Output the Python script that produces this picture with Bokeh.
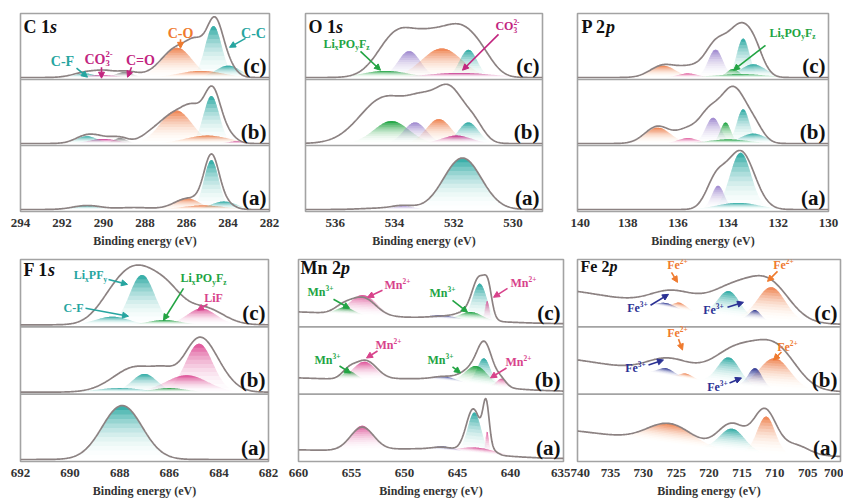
import numpy as np
from bokeh.plotting import figure
from bokeh.models import Range1d, FixedTicker, Span, Label, Arrow, NormalHead
from bokeh.layouts import row, column
from bokeh.embed import file_html
from bokeh.resources import INLINE

# ---------------- tick labels / texts ----------------
C1S_TICKS = [294, 292, 290, 288, 286, 284, 282]
O1S_TICKS = [536, 534, 532, 530]
P2P_TICKS = [140, 138, 136, 134, 132, 130]
F1S_TICKS = [692, 690, 688, 686, 684, 682]
MN2P_TICKS = [660, 655, 650, 645, 640, 635]
FE2P_TICKS = [740, 735, 730, 725, 720, 715, 710, 705, 700]
SPECTRA = ["(a)", "(b)", "(c)"]
X_LABEL = "Binding energy (eV)"

# ---------------- fitted peaks: (centre eV, height [panel units], FWHM eV) ----------------
C1S_A_ENV = [(284.8, 0.76, 0.85), (284.2, 0.10, 1.0), (285.9, 0.17, 1.6), (288.5, 0.03, 2.0), (290.8, 0.06, 1.6)]
C1S_A_COMP = [("orange", 285.2, 0.06, 2.5), ("teal", 284.2, 0.12, 1.5), ("orange", 286.0, 0.17, 1.5),
              ("teal", 290.9, 0.06, 1.5), ("teal", 284.8, 0.75, 0.85)]
C1S_B_ENV = [(284.75, 0.72, 0.9), (284.1, 0.15, 1.0), (285.6, 0.30, 1.1), (286.5, 0.46, 1.9), (287.8, 0.07, 1.2),
             (289.2, 0.08, 1.0), (290.0, 0.06, 1.2), (290.8, 0.12, 1.3)]
C1S_B_COMP = [("orange", 285.0, 0.12, 2.5), ("magenta", 283.6, 0.03, 1.0), ("orange", 286.5, 0.50, 1.8),
              ("gray", 289.2, 0.08, 0.8), ("magenta", 290.0, 0.07, 1.6), ("teal", 290.8, 0.11, 1.2),
              ("teal", 284.8, 0.72, 0.9)]
C1S_C_ENV = [(284.65, 0.75, 0.9), (284.1, 0.20, 1.0), (285.5, 0.30, 1.0), (286.4, 0.46, 1.9), (288.9, 0.09, 1.3),
             (289.9, 0.05, 1.0), (290.7, 0.09, 1.6)]
C1S_C_COMP = [("orange", 285.3, 0.10, 2.5), ("teal", 284.0, 0.18, 1.4), ("orange", 286.45, 0.45, 1.7),
              ("gray", 289.0, 0.08, 1.0), ("magenta", 290.1, 0.04, 1.6), ("teal", 290.9, 0.06, 1.2),
              ("teal", 284.7, 0.78, 0.95)]

O1S_A_ENV = [(531.7, 0.78, 1.5), (533.7, 0.05, 0.9), (534.5, 0.02, 1.5)]
O1S_A_COMP = [("teal", 531.7, 0.78, 1.5), ("purple", 533.7, 0.05, 0.9)]
O1S_B_ENV = [(534.3, 0.70, 2.0), (533.0, 0.45, 1.2), (532.1, 0.74, 1.1), (531.3, 0.25, 0.8)]
O1S_B_COMP = [("green", 534.1, 0.34, 1.4), ("purple", 533.3, 0.32, 0.9), ("orange", 532.5, 0.37, 1.0),
              ("teal", 531.5, 0.32, 0.8), ("magenta", 531.9, 0.12, 1.2)]
O1S_C_ENV = [(533.9, 0.66, 1.5), (532.7, 0.52, 1.4), (531.7, 0.62, 1.3), (531.0, 0.18, 1.0)]
O1S_C_COMP = [("green", 534.3, 0.10, 1.8), ("purple", 533.5, 0.40, 0.9), ("orange", 532.4, 0.44, 1.6),
              ("teal", 531.5, 0.42, 0.7), ("magenta", 531.8, 0.07, 2.6)]

P2P_A_ENV = [(133.5, 0.88, 1.3), (134.5, 0.40, 0.9)]
P2P_A_COMP = [("teal", 133.6, 0.10, 2.0), ("purple", 134.4, 0.36, 0.6), ("teal", 133.5, 0.86, 1.0)]
P2P_B_ENV = [(133.8, 0.85, 1.3), (134.8, 0.35, 0.9), (135.6, 0.20, 1.0), (136.8, 0.26, 1.2), (132.9, 0.15, 0.8)]
P2P_B_COMP = [("orange", 136.8, 0.24, 1.2), ("pink", 135.6, 0.08, 1.0), ("green", 134.0, 0.06, 2.0),
              ("teal", 133.0, 0.15, 1.2), ("purple", 134.6, 0.39, 0.7), ("teal", 133.4, 0.52, 0.6),
              ("green", 134.1, 0.32, 0.5)]
P2P_C_ENV = [(133.5, 0.76, 1.2), (132.9, 0.20, 0.8), (134.5, 0.45, 1.0), (135.5, 0.15, 1.2), (136.6, 0.18, 1.2)]
P2P_C_COMP = [("orange", 136.6, 0.18, 1.2), ("pink", 135.6, 0.06, 1.0), ("teal", 133.0, 0.20, 1.2),
              ("green", 133.5, 0.05, 2.5), ("purple", 134.5, 0.42, 0.7), ("teal", 133.4, 0.59, 0.6),
              ("green", 133.8, 0.13, 0.6)]

F1S_A_ENV = [(687.9, 0.80, 1.9)]
F1S_A_COMP = [("teal", 687.9, 0.80, 1.9)]
F1S_B_ENV = [(687.3, 0.38, 2.2), (686.2, 0.14, 1.0), (684.9, 0.62, 1.4), (684.2, 0.30, 1.5)]
F1S_B_COMP = [("teal", 688.0, 0.06, 2.2), ("green", 686.0, 0.06, 1.6), ("teal", 687.0, 0.27, 1.2),
              ("pink", 685.3, 0.25, 2.0), ("pink", 684.8, 0.72, 1.3)]
F1S_C_ENV = [(687.2, 0.78, 2.0), (688.3, 0.25, 1.6), (686.0, 0.30, 1.4), (684.6, 0.25, 1.8)]
F1S_C_COMP = [("teal", 688.3, 0.12, 1.6), ("green", 686.2, 0.07, 1.6), ("pink", 684.7, 0.24, 1.4),
              ("teal", 687.1, 0.74, 1.2)]

MN2P_OFFSET = 0.04
MN2P_A_BG = [(662, 0.13, 16), (648, 0.13, 12)]
MN2P_A_ENV = [(654.0, 0.34, 2.6), (646.3, 0.04, 2.5), (643.5, 0.65, 1.6), (642.3, 0.67, 0.7), (641.6, 0.05, 1.0)]
MN2P_A_COMP = [("pink", 654.0, 0.36, 2.5), ("blue", 646.3, 0.05, 2.5), ("pink", 643.0, 0.08, 4.0),
               ("teal", 643.4, 0.60, 1.5), ("pink", 642.2, 0.34, 0.4)]
MN2P_B_BG = [(662, 0.20, 16), (648, 0.16, 12)]
MN2P_B_ENV = [(655.3, 0.10, 1.5), (653.7, 0.28, 2.5), (646.3, 0.05, 2.5), (643.3, 0.25, 2.8), (642.4, 0.46, 1.6),
              (640.9, 0.10, 1.2)]
MN2P_B_COMP = [("green", 655.2, 0.12, 1.5), ("pink", 653.8, 0.26, 2.5), ("blue", 646.3, 0.06, 2.5),
               ("teal", 642.5, 0.40, 1.5), ("green", 643.2, 0.27, 2.5), ("pink", 640.8, 0.13, 1.2)]
MN2P_C_BG = [(662, 0.18, 16), (648, 0.07, 14)]
MN2P_C_ENV = [(655.8, 0.10, 2.0), (653.9, 0.26, 2.8), (646.5, 0.03, 3.0), (644.2, 0.10, 2.5), (642.9, 0.60, 1.6),
              (642.1, 0.30, 0.8)]
MN2P_C_COMP = [("pink", 653.9, 0.30, 3.0), ("green", 655.6, 0.10, 2.0), ("blue", 646.5, 0.05, 3.0),
               ("teal", 642.9, 0.55, 1.6), ("green", 643.7, 0.12, 2.5), ("pink", 642.2, 0.30, 0.5)]

FE2P_OFFSET = [0.06, 0.02, 0.02]
FE2P_A_BG = [(750, 0.45, 45)]
FE2P_A_ENV = [(726.0, 0.30, 8.0), (716.5, 0.40, 5.0), (711.5, 0.63, 4.0), (707.0, 0.15, 5.0)]
FE2P_A_COMP = [("orange", 726.0, 0.30, 8.0), ("teal", 716.5, 0.33, 4.5), ("orange", 711.3, 0.55, 3.2)]
FE2P_B_BG = [(750, 0.56, 45)]
FE2P_B_ENV = [(726.0, 0.25, 8.0), (715.5, 0.55, 9.0), (709.5, 0.50, 7.0)]
FE2P_B_COMP = [("blue", 726.5, 0.10, 3.0), ("orange", 723.5, 0.07, 2.5), ("teal", 717.0, 0.40, 4.0),
               ("orange", 710.0, 0.45, 5.5), ("blue", 713.0, 0.28, 2.5)]
FE2P_C_BG = [(750, 0.58, 45)]
FE2P_C_ENV = [(725.5, 0.25, 8.0), (716.0, 0.45, 9.0), (710.5, 0.45, 7.0)]
FE2P_C_COMP = [("blue", 726.5, 0.06, 3.0), ("orange", 724.5, 0.10, 2.5), ("teal", 717.0, 0.38, 4.0),
               ("orange", 710.5, 0.50, 5.0), ("blue", 713.0, 0.14, 2.0)]

# ---------------- styling ----------------
FONT = "Liberation Serif"
FRAME = "#a3a3a3"
ENV_COLOR = "#8c8282"
FILL = {"teal": "#2aa9a3", "orange": "#f0804c", "magenta": "#c72c8c", "pink": "#de4f98",
        "purple": "#9d86cf", "green": "#16a03a", "gray": "#777777", "blue": "#28308f"}
TXT = {"teal": "#26a5a0", "magenta": "#c2257f", "orange": "#ef7a2e", "green": "#22a443",
       "pink": "#d8428b", "blue": "#2b3194"}
CW = {'C': .722, 'F': .611, 'L': .667, 'M': .944, 'O': .778, 'P': .611, 'a': .5, 'b': .556, 'c': .444,
      'e': .444, 'i': .278, 'n': .556, 'p': .556, 's': .389, 'x': .5, 'y': .5, 'z': .444, '1': .5,
      '2': .5, '3': .5, '+': .570, '-': .333, '=': .570, '(': .333, ')': .333, ' ': .25}
NL = 12  # stacked layers that make the vertical colour fade of each fitted component

LIPOF = [("Li", "n"), ("x", "sub"), ("PO", "n"), ("y", "sub"), ("F", "n"), ("z", "sub")]
LIPF = [("Li", "n"), ("x", "sub"), ("PF", "n"), ("y", "sub")]
CO3 = [("CO", "n"), ("3", "sub"), ("2-", "supb")]
MN3 = [("Mn", "n"), ("3+", "sup")]
MN2 = [("Mn", "n"), ("2+", "sup")]
FE3 = [("Fe", "n"), ("3+", "sup")]
FE2 = [("Fe", "n"), ("2+", "sup")]

# layer alphas so that the stacked opacity follows 0.92*f^2.2 (f = relative height in the peak)
_op = [0.92 * ((j + 1) / NL) ** 2.2 for j in range(NL)]
LAYER_ALPHA = []
_prev = 0.0
for o in _op:
    LAYER_ALPHA.append(1 - (1 - o) / (1 - _prev))
    _prev = o


def gsum(x, peaks):
    y = np.zeros_like(x)
    for c, h, w in peaks:
        s = w / 2.3548
        y = y + h * np.exp(-(x - c) ** 2 / (2 * s * s))
    return y


def rich(p, x, y, parts, size, color, align="center"):
    segs, cur, prev = [], 0.0, 0.0
    for text, mode in parts:
        fs = size if mode in ("n", "it") else size * 0.62
        start = prev if mode == "supb" else cur
        w = sum(CW.get(ch, 0.5) for ch in text) * fs
        dy = {"n": 0, "it": 0, "sub": -0.30 * size, "sup": 0.36 * size, "supb": 0.36 * size}[mode]
        segs.append((text, start, dy, fs, mode == "it"))
        prev = start
        cur = max(cur, start + w)
    x0 = -cur / 2 if align == "center" else 0
    for text, start, dy, fs, it in segs:
        p.add_layout(Label(x=x, y=y, x_offset=x0 + start, y_offset=dy, text=text, text_font=FONT,
                           text_font_style="bold italic" if it else "bold",
                           text_font_size="%.1fpx" % fs, text_color=color,
                           text_align="left", text_baseline="middle"))


def make_panel(spec):
    L, T, R, B = spec["frame"]
    x0, x1 = spec["xr"]

    def d(px, py):
        return x0 + (px - L) / (R - L) * (x1 - x0), 3.0 * (B - py) / (B - T)

    bl, br, bt, bb = spec["borders"]
    p = figure(width=spec["w"], height=spec["h"], x_range=Range1d(x0, x1), y_range=Range1d(0, 3),
               output_backend="svg", toolbar_location=None, y_axis_location=None,
               min_border_left=bl, min_border_right=br, min_border_top=bt, min_border_bottom=bb)
    p.xgrid.visible = False
    p.ygrid.visible = False
    p.outline_line_color = FRAME
    p.outline_line_width = 1.6
    p.background_fill_color = "white"
    p.border_fill_color = "white"
    ax = p.xaxis[0]
    ax.ticker = FixedTicker(ticks=spec["ticks"])
    ax.axis_label = X_LABEL
    ax.axis_label_text_font = FONT
    ax.axis_label_text_font_style = "bold"
    ax.axis_label_text_font_size = "12px"
    ax.axis_label_text_color = "#333333"
    ax.major_label_text_font = FONT
    ax.major_label_text_font_style = "bold"
    ax.major_label_text_font_size = "13px"
    ax.major_label_text_color = "#333333"
    ax.axis_line_color = None
    ax.major_tick_line_color = None
    ax.minor_tick_line_color = None
    ax.major_label_standoff = 1
    ax.axis_label_standoff = spec["lab_sep"]

    x = np.linspace(min(x0, x1), max(x0, x1), 260)
    xs, ys, cs, al = [], [], [], []
    envs = []
    for k, (off, bg, env, comps) in enumerate(spec["spectra"]):
        base = k + off + gsum(x, bg)
        for col, c, h, w in comps:
            g = gsum(x, [(c, h, w)])
            H = g.max()
            for j in range(NL):
                lo = H * j / NL
                m = g > lo + 1e-6
                if m.sum() < 2:
                    continue
                xm = x[m]
                yh = base[m] + g[m]
                yl = base[m] + lo
                xs.append(np.round(np.concatenate([xm, xm[::-1]]), 3))
                ys.append(np.round(np.concatenate([yh, yl[::-1]]), 4))
                cs.append(FILL[col])
                al.append(LAYER_ALPHA[j])
        envs.append(base + gsum(x, env))
    p.patches(xs=xs, ys=ys, fill_color=cs, fill_alpha=al, line_color=None)
    for e in envs:
        p.line(x, e, line_color=ENV_COLOR, line_width=1.7)
    for k in (1, 2):
        p.add_layout(Span(location=k, dimension="width", line_color=FRAME, line_width=1.6))
    sub_h = (B - T) / 3.0
    for k, lab in enumerate(SPECTRA):
        _, ly = d(R, B - k * sub_h - 14)
        p.add_layout(Label(x=x1, y=ly, x_offset=-3, text=lab, text_font=FONT,
                           text_font_style="bold", text_font_size="21px", text_color="#111111",
                           text_align="right", text_baseline="middle"))
    tx, ty = d(*spec["title_pos"])
    rich(p, tx, ty, spec["title"], spec["title_size"], "#111111", align="left")
    for parts, size, col, cen, a0, a1 in spec["notes"]:
        cx, cy = d(*cen)
        rich(p, cx, cy, parts, size, TXT[col])
        sx, sy = d(*a0)
        ex, ey = d(*a1)
        p.add_layout(Arrow(end=NormalHead(size=6, fill_color=TXT[col], line_color=TXT[col], line_width=1),
                           line_color=TXT[col], line_width=1.6, x_start=sx, y_start=sy, x_end=ex, y_end=ey))
    return p


B0 = 0.03
PANELS = [
    dict(w=285, h=250, borders=(20, 16, 13, 38), frame=(20, 13, 269, 212), xr=(294, 282), ticks=C1S_TICKS,
         lab_sep=4, title=[("C 1", "n"), ("s", "it")], title_pos=(23, 27), title_size=18,
         spectra=[(B0, [], C1S_A_ENV, C1S_A_COMP), (B0, [], C1S_B_ENV, C1S_B_COMP), (B0, [], C1S_C_ENV, C1S_C_COMP)],
         notes=[([("C-F", "n")], 14, "teal", (62, 61), (76, 68), (87, 77)),
                (CO3, 14, "magenta", (98, 59), (101, 67), (101, 78)),
                ([("C=O", "n")], 14, "magenta", (140, 60), (131, 67), (127, 77)),
                ([("C-O", "n")], 14, "orange", (180, 33), (180, 39), (180, 48)),
                ([("C-C", "n")], 14, "teal", (253, 33), (245, 38), (229, 47))]),
    dict(w=285, h=250, borders=(20, 28, 13, 38), frame=(305, 13, 542, 212), xr=(537, 529), ticks=O1S_TICKS,
         lab_sep=4, title=[("O 1", "n"), ("s", "it")], title_pos=(308, 27), title_size=18,
         spectra=[(B0, [], O1S_A_ENV, O1S_A_COMP), (B0, [], O1S_B_ENV, O1S_B_COMP), (B0, [], O1S_C_ENV, O1S_C_COMP)],
         notes=[(LIPOF, 12, "green", (346, 44), (360, 51), (380, 70)),
                (CO3, 12, "magenta", (507, 26), (498, 34), (462, 70))]),
    dict(w=273, h=250, borders=(7, 15, 13, 38), frame=(577, 13, 828, 212), xr=(140, 130), ticks=P2P_TICKS,
         lab_sep=4, title=[("P 2", "n"), ("p", "it")], title_pos=(581, 27), title_size=18,
         spectra=[(B0, [], P2P_A_ENV, P2P_A_COMP), (B0, [], P2P_B_ENV, P2P_B_COMP), (B0, [], P2P_C_ENV, P2P_C_COMP)],
         notes=[(LIPOF, 12, "green", (792, 33), (765, 45), (733, 70))]),
    dict(w=285, h=250, borders=(20, 17, 9, 38), frame=(20, 259, 268, 462), xr=(692, 682), ticks=F1S_TICKS,
         lab_sep=4, title=[("F 1", "n"), ("s", "it")], title_pos=(23, 270), title_size=18,
         spectra=[(B0, [], F1S_A_ENV, F1S_A_COMP), (B0, [], F1S_B_ENV, F1S_B_COMP), (B0, [], F1S_C_ENV, F1S_C_COMP)],
         notes=[(LIPF, 12, "teal", (90, 275), (108, 279), (127, 284)),
                ([("C-F", "n")], 12, "teal", (73, 308), (85, 308), (128, 316)),
                (LIPOF, 12, "green", (203, 278), (183, 288), (163, 320)),
                ([("LiF", "n")], 12, "pink", (213, 298), (207, 304), (197, 310))]),
    dict(w=285, h=250, borders=(13, 7, 9, 38), frame=(298, 259, 563, 462), xr=(660, 635), ticks=MN2P_TICKS,
         lab_sep=4, title=[("Mn 2", "n"), ("p", "it")], title_pos=(300, 268), title_size=18,
         spectra=[(MN2P_OFFSET, MN2P_A_BG, MN2P_A_ENV, MN2P_A_COMP),
                  (MN2P_OFFSET, MN2P_B_BG, MN2P_B_ENV, MN2P_B_COMP),
                  (MN2P_OFFSET, MN2P_C_BG, MN2P_C_ENV, MN2P_C_COMP)],
         notes=[(MN3, 12, "green", (320, 292), (333, 299), (349, 308)),
                (MN2, 12, "pink", (397, 285), (382, 290), (367, 297)),
                (MN3, 12, "green", (442, 293), (452, 300), (467, 312)),
                (MN2, 12, "pink", (523, 283), (507, 288), (493, 297)),
                (MN3, 12, "green", (327, 360), (339, 366), (350, 373)),
                (MN2, 12, "pink", (388, 345), (377, 351), (366, 358)),
                (MN3, 12, "green", (440, 360), (452, 367), (460, 373)),
                (MN2, 12, "pink", (518, 362), (506, 368), (490, 378))]),
    dict(w=273, h=250, borders=(7, 3, 9, 38), frame=(577, 259, 840, 462), xr=(740, 700), ticks=FE2P_TICKS,
         lab_sep=4, title=[("Fe 2", "n"), ("p", "it")], title_pos=(580, 266), title_size=16,
         spectra=[(FE2P_OFFSET[0], FE2P_A_BG, FE2P_A_ENV, FE2P_A_COMP),
                  (FE2P_OFFSET[1], FE2P_B_BG, FE2P_B_ENV, FE2P_B_COMP),
                  (FE2P_OFFSET[2], FE2P_C_BG, FE2P_C_ENV, FE2P_C_COMP)],
         notes=[(FE2, 12, "orange", (677, 265), (671, 272), (677, 282)),
                (FE3, 12, "blue", (637, 308), (650, 305), (668, 294)),
                (FE2, 12, "orange", (783, 265), (777, 271), (767, 281)),
                (FE3, 12, "blue", (713, 310), (727, 307), (743, 302)),
                (FE2, 12, "orange", (677, 333), (678, 339), (682, 350)),
                (FE3, 12, "blue", (635, 368), (648, 365), (663, 360)),
                (FE2, 12, "orange", (787, 347), (781, 352), (773, 360)),
                (FE3, 12, "blue", (717, 387), (729, 383), (741, 378))]),
]

figs = [make_panel(s) for s in PANELS]
layout = column(row(*figs[:3]), row(*figs[3:]))
open("out.html", "w").write(file_html(layout, INLINE))
